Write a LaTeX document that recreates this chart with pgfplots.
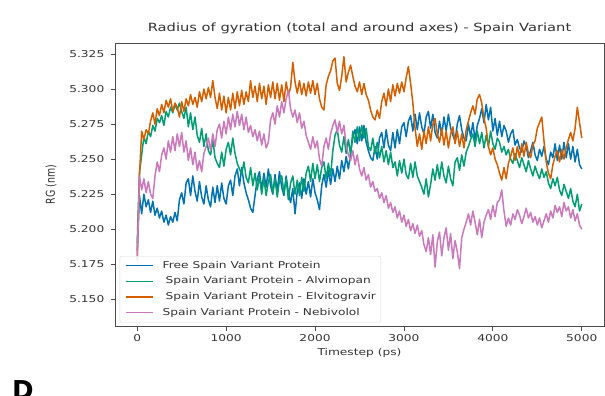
\documentclass[border=0pt]{standalone}
\usepackage{fontspec}
\setmainfont{DejaVu Sans}
\usepackage{graphicx}
\usepackage{pgfplots}
\usepackage{pgfplotstable}
\pgfplotsset{compat=1.18}

\definecolor{cbBlue}{HTML}{0173B2}
\definecolor{cbGreen}{HTML}{029E73}
\definecolor{cbOrange}{HTML}{D55E00}
\definecolor{cbPink}{HTML}{CC78BC}
\definecolor{txt}{HTML}{333333}

% the figure text is set wide
\newcommand{\wide}[1]{\scalebox{1.3}[1]{#1}}

% radius of gyration (nm) against time (ps)
\pgfplotstableread{
t free alvi elvi nebi
0 5.185 5.190 5.180 5.178
25 5.224 5.240 5.238 5.238
50 5.211 5.253 5.270 5.228
75 5.225 5.266 5.264 5.236
100 5.216 5.261 5.271 5.226
125 5.221 5.270 5.268 5.234
150 5.212 5.266 5.277 5.225
175 5.220 5.274 5.283 5.222
200 5.210 5.270 5.275 5.238
225 5.215 5.279 5.286 5.248
250 5.208 5.276 5.281 5.241
275 5.213 5.281 5.289 5.253
300 5.205 5.274 5.283 5.258
325 5.210 5.284 5.292 5.250
350 5.203 5.280 5.287 5.263
375 5.209 5.287 5.293 5.255
400 5.205 5.283 5.284 5.266
425 5.212 5.289 5.290 5.256
450 5.206 5.285 5.287 5.268
475 5.221 5.290 5.280 5.259
500 5.226 5.284 5.291 5.269
525 5.218 5.279 5.284 5.255
550 5.233 5.287 5.293 5.263
575 5.236 5.273 5.288 5.249
600 5.224 5.283 5.296 5.258
625 5.238 5.271 5.289 5.246
650 5.227 5.280 5.294 5.255
675 5.220 5.267 5.287 5.242
700 5.234 5.262 5.298 5.249
725 5.223 5.272 5.291 5.241
750 5.218 5.259 5.300 5.254
775 5.231 5.268 5.293 5.259
800 5.221 5.256 5.301 5.265
825 5.216 5.253 5.294 5.256
850 5.230 5.264 5.306 5.268
875 5.219 5.251 5.294 5.259
900 5.231 5.247 5.286 5.271
925 5.220 5.244 5.297 5.275
950 5.233 5.255 5.285 5.265
975 5.222 5.245 5.295 5.277
1000 5.218 5.257 5.283 5.268
1025 5.231 5.262 5.294 5.280
1050 5.235 5.253 5.285 5.271
1075 5.224 5.265 5.297 5.282
1100 5.238 5.254 5.286 5.273
1125 5.243 5.247 5.298 5.284
1150 5.231 5.243 5.288 5.274
1175 5.244 5.239 5.299 5.282
1200 5.233 5.248 5.289 5.271
1225 5.226 5.237 5.298 5.280
1250 5.221 5.233 5.291 5.269
1275 5.215 5.244 5.306 5.274
1300 5.212 5.231 5.294 5.266
1325 5.224 5.240 5.302 5.271
1350 5.236 5.228 5.291 5.263
1375 5.241 5.238 5.304 5.270
1400 5.228 5.225 5.293 5.260
1425 5.240 5.236 5.302 5.268
1450 5.230 5.224 5.289 5.258
1475 5.243 5.234 5.303 5.262
1500 5.231 5.239 5.294 5.278
1525 5.225 5.226 5.305 5.283
1550 5.239 5.236 5.293 5.275
1575 5.227 5.223 5.304 5.288
1600 5.241 5.235 5.292 5.280
1625 5.230 5.238 5.303 5.291
1650 5.224 5.226 5.291 5.283
1675 5.238 5.236 5.305 5.293
1700 5.226 5.221 5.296 5.299
1725 5.219 5.233 5.301 5.286
1750 5.229 5.238 5.319 5.280
1775 5.211 5.225 5.305 5.285
1800 5.227 5.235 5.297 5.276
1825 5.233 5.224 5.306 5.283
1850 5.222 5.237 5.296 5.272
1875 5.236 5.227 5.304 5.277
1900 5.225 5.240 5.295 5.267
1925 5.234 5.245 5.305 5.262
1950 5.223 5.234 5.297 5.257
1975 5.236 5.247 5.306 5.266
2000 5.226 5.236 5.296 5.258
2025 5.221 5.246 5.304 5.263
2050 5.214 5.234 5.293 5.250
2075 5.231 5.244 5.287 5.245
2100 5.239 5.248 5.285 5.259
2125 5.230 5.236 5.303 5.265
2150 5.242 5.247 5.309 5.257
2175 5.232 5.238 5.313 5.268
2200 5.243 5.256 5.320 5.274
2225 5.234 5.267 5.322 5.278
2250 5.245 5.271 5.304 5.269
2275 5.236 5.260 5.299 5.277
2300 5.249 5.255 5.309 5.268
2325 5.241 5.266 5.323 5.274
2350 5.252 5.254 5.305 5.260
2375 5.243 5.264 5.312 5.253
2400 5.254 5.253 5.317 5.249
2425 5.266 5.270 5.309 5.256
2450 5.271 5.262 5.302 5.246
2475 5.261 5.273 5.298 5.253
2500 5.273 5.263 5.305 5.243
2525 5.263 5.274 5.296 5.238
2550 5.274 5.265 5.304 5.244
2575 5.262 5.272 5.296 5.235
2600 5.256 5.259 5.292 5.239
2625 5.251 5.256 5.285 5.230
2650 5.249 5.265 5.280 5.234
2675 5.259 5.254 5.278 5.227
2700 5.250 5.262 5.285 5.229
2725 5.265 5.251 5.279 5.222
2750 5.269 5.259 5.291 5.226
2775 5.258 5.248 5.297 5.219
2800 5.271 5.256 5.288 5.224
2825 5.260 5.246 5.300 5.215
2850 5.256 5.255 5.291 5.219
2875 5.269 5.244 5.303 5.212
2900 5.258 5.248 5.295 5.216
2925 5.271 5.238 5.304 5.208
2950 5.261 5.249 5.297 5.213
2975 5.273 5.240 5.305 5.205
3000 5.276 5.250 5.298 5.210
3025 5.266 5.239 5.308 5.202
3050 5.277 5.236 5.316 5.207
3075 5.281 5.247 5.304 5.199
3100 5.270 5.237 5.290 5.204
3125 5.282 5.248 5.272 5.197
3150 5.271 5.238 5.259 5.203
3175 5.283 5.234 5.268 5.195
3200 5.273 5.230 5.257 5.199
3225 5.268 5.225 5.270 5.189
3250 5.280 5.236 5.261 5.184
3275 5.284 5.223 5.273 5.194
3300 5.272 5.232 5.263 5.182
3325 5.282 5.243 5.275 5.196
3350 5.269 5.235 5.279 5.173
3375 5.265 5.246 5.268 5.191
3400 5.277 5.236 5.262 5.198
3425 5.267 5.248 5.272 5.181
3450 5.280 5.238 5.260 5.194
3475 5.270 5.233 5.270 5.201
3500 5.282 5.245 5.258 5.185
3525 5.272 5.236 5.268 5.197
3550 5.267 5.231 5.273 5.179
3575 5.263 5.248 5.261 5.192
3600 5.275 5.251 5.270 5.184
3625 5.281 5.242 5.259 5.172
3650 5.271 5.253 5.268 5.194
3675 5.265 5.245 5.258 5.200
3700 5.263 5.255 5.271 5.205
3725 5.275 5.259 5.277 5.211
3750 5.266 5.264 5.283 5.203
3775 5.276 5.268 5.288 5.213
3800 5.264 5.259 5.282 5.205
3825 5.274 5.270 5.293 5.196
3850 5.279 5.261 5.296 5.207
3875 5.286 5.269 5.290 5.194
3900 5.276 5.258 5.279 5.205
3925 5.289 5.267 5.272 5.210
3950 5.278 5.259 5.259 5.214
3975 5.287 5.270 5.253 5.207
4000 5.270 5.261 5.258 5.217
4025 5.279 5.257 5.250 5.209
4050 5.267 5.265 5.246 5.219
4075 5.277 5.262 5.240 5.221
4100 5.266 5.255 5.235 5.228
4125 5.274 5.259 5.244 5.213
4150 5.270 5.253 5.236 5.202
4175 5.262 5.257 5.247 5.208
4200 5.268 5.250 5.252 5.203
4225 5.271 5.247 5.258 5.211
4250 5.260 5.254 5.249 5.207
4275 5.264 5.249 5.259 5.214
4300 5.258 5.244 5.251 5.210
4325 5.255 5.251 5.261 5.204
4350 5.263 5.246 5.252 5.209
4375 5.259 5.241 5.262 5.215
4400 5.251 5.249 5.254 5.208
4425 5.256 5.243 5.251 5.212
4450 5.262 5.238 5.260 5.205
4475 5.253 5.245 5.263 5.209
4500 5.249 5.240 5.272 5.203
4525 5.257 5.236 5.276 5.208
4550 5.252 5.243 5.280 5.201
4575 5.259 5.237 5.263 5.206
4600 5.250 5.241 5.248 5.211
4625 5.246 5.233 5.240 5.205
4650 5.255 5.229 5.236 5.213
4675 5.251 5.236 5.246 5.208
4700 5.261 5.231 5.252 5.217
4725 5.249 5.237 5.256 5.212
4750 5.260 5.228 5.248 5.216
4775 5.250 5.224 5.257 5.209
4800 5.262 5.232 5.250 5.219
4825 5.251 5.227 5.258 5.213
4850 5.261 5.222 5.264 5.216
4875 5.250 5.229 5.269 5.208
4900 5.259 5.220 5.263 5.214
4925 5.248 5.216 5.272 5.206
4950 5.257 5.225 5.287 5.211
4975 5.246 5.213 5.276 5.203
5000 5.243 5.218 5.265 5.200
}\rgdata

\begin{document}
\begin{tikzpicture}
\useasboundingbox (0,0) rectangle (605bp,396bp);
\begin{axis}[
  at={(115bp,70bp)}, anchor=south west,
  scale only axis, width=489bp, height=283bp,
  xmin=-250, xmax=5250, ymin=5.1310, ymax=5.3328,
  xtick={0,1000,2000,3000,4000,5000},
  ytick={5.150,5.175,5.200,5.225,5.250,5.275,5.300,5.325},
  scaled ticks=false,
  tick pos=left, tick align=outside,
  major tick length=4.5bp,
  axis line style={black!70, line width=0.8bp},
  tick style={black!70, line width=0.8bp},
  font=\fontsize{9.4bp}{11bp}\selectfont,
  every tick label/.append style={text=txt},
  xticklabel={\wide{\pgfmathprintnumber[1000 sep={},assume math mode=true]{\tick}}},
  yticklabel={\wide{\pgfmathprintnumber[fixed,fixed zerofill,precision=3,assume math mode=true]{\tick}}},
  xticklabel style={inner sep=0bp, yshift=-4bp},
  yticklabel style={inner sep=0bp, xshift=-6bp},
  title={\wide{Radius of gyration (total and around axes) - Spain Variant}},
  title style={font=\fontsize{11.3bp}{13bp}\selectfont, text=txt, at={(0.5,1)}, anchor=south, inner sep=0bp, yshift=3bp},
  xlabel={\wide{Timestep (ps)}},
  xlabel style={text=txt, at={(rel axis cs:0.5,0)}, anchor=center, yshift=-27bp},
  ylabel={\scalebox{1}[1.3]{RG (nm)}},
  ylabel style={text=txt, at={(axis description cs:-0.1309,0.5)}, anchor=center, rotate=0, inner sep=0bp},
  legend cell align=left,
  legend image code/.code={\draw[#1, line width=1.3bp] (0bp,0bp) -- (27.5bp,0bp);},
  legend style={at={(rel axis cs:0,0)}, anchor=south west, xshift=4.7bp, yshift=3.5bp,
    draw=black!15, fill=white, fill opacity=0.8, text opacity=1, rounded corners=2bp,
    inner xsep=5bp, inner ysep=5bp, row sep=6.7bp, column sep=9bp,
    nodes={inner sep=0bp, text height=7bp, text depth=2bp, text=txt},
    font=\fontsize{9.4bp}{11bp}\selectfont},
  every axis plot/.append style={line width=1.5bp, line join=round},
]
\addplot[cbBlue]   table[x=t, y=free] {\rgdata};
\addlegendentry{\wide{Free Spain Variant Protein}}
\addplot[cbGreen]  table[x=t, y=alvi] {\rgdata};
\addlegendentry{\hspace{3bp}\wide{Spain Variant Protein - Alvimopan}}
\addplot[cbOrange] table[x=t, y=elvi] {\rgdata};
\addlegendentry{\hspace{3bp}\wide{Spain Variant Protein - Elvitogravir}}
\addplot[cbPink]   table[x=t, y=nebi] {\rgdata};
\addlegendentry{\wide{Spain Variant Protein - Nebivolol}}
\end{axis}
% panel letter of the next figure, cut by the page edge
\node[anchor=north west, inner sep=0bp, font=\fontsize{26bp}{30bp}\selectfont\bfseries] at (12bp,16bp) {D};
\end{tikzpicture}
\end{document}
